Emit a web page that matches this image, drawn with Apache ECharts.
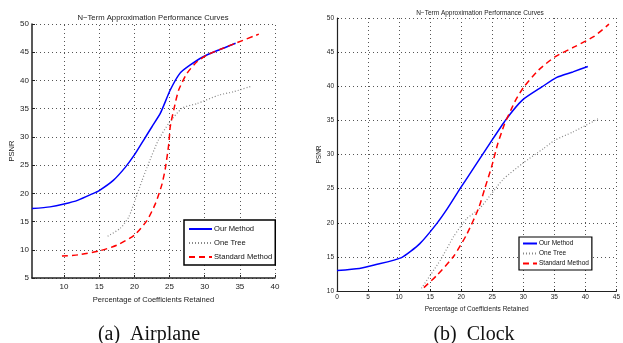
<!DOCTYPE html>
<html>
<head>
<meta charset="utf-8">
<script src="https://cdn.jsdelivr.net/npm/echarts@6/dist/echarts.min.js"></script>
<style>html,body{margin:0;padding:0;background:#fff}#c{width:623px;height:343px}</style>
</head>
<body>
<div id="c"></div>
<script>
// ---- Airplane (left) ----
const airOur = [[5.44,17.3],[8,17.6],[10,18.1],[12,18.8],[14,19.9],[15,20.5],[17,22.3],[18.7,24.6],[20,26.8],[21.3,29.4],[22.5,31.8],[23.7,34.2],[25.1,38.3],[26.5,41.3],[27.9,42.7],[29.8,44.2],[32,45.4],[34.4,46.6]];
const airTree = [[16.2,12.4],[18,13.8],[19.2,15.8],[20.1,18.8],[21.1,22.3],[21.8,24.6],[23.4,29.4],[24.9,32.4],[26.8,35.1],[28.9,35.9],[32,37.4],[34.1,38],[36.7,39]];
const airStd = [[9.7,8.9],[12,9.1],[15,9.8],[17.5,10.8],[20,12.6],[21.8,15.2],[23,18.2],[23.9,21.5],[24.4,24.4],[24.9,28.8],[25.1,31.8],[25.6,34.8],[26.3,38.3],[27.5,41.3],[28.9,43.3],[30.3,44.5],[32.2,45.5],[34.4,46.6],[37.7,48.2]];
const airXTicks = [10,15,20,25,30,35,40];
// ---- Clock (right) ----
const clkOur = [[0,13.0],[3.6,13.3],[6,13.8],[10.4,14.9],[13.3,16.9],[16,19.8],[17.8,22.1],[19.9,25.1],[22,28],[24.6,31.6],[27.2,35.1],[29.9,38],[33,39.9],[35.4,41.3],[38,42.1],[40.4,42.9]];
const clkTree = [[13.6,10.4],[16.7,14.6],[18.8,18],[20.9,20.6],[23,22.1],[26.7,26.3],[29.9,28.7],[33.3,30.9],[35.1,32.1],[38,33.3],[42.2,35.3]];
const clkStd = [[14,10.5],[16.2,12.4],[18.8,15.1],[20.9,18.3],[22.8,22.1],[23.8,25],[24.9,28.2],[25.9,31.6],[27,34.5],[28,36.5],[28.8,38],[30.1,39.9],[32.5,42.4],[35.1,44.3],[38.3,45.8],[41.4,47.3],[43.8,49.1]];

const names = ['Our Method','One Tree','Standard Method'];
const titleText = 'N\u2212Term Approximation Performance Curves';
const xName = 'Percentage of Coefficients Retained';
const FONT = "'Liberation Sans', Arial, sans-serif";

const gridDot = {type:[1,3], color:'#555', width:1};
const blueStyle = {color:'#0000ff', width:1.5, type:'solid'};
const grayStyle = {color:'#888', width:1.2, type:[1,2]};
const redStyle = {color:'#ff0000', width:1.5, type:[6,4]};

function mkSeries(idx, data, style, name, extra){
  return Object.assign({type:'line', name:name, xAxisIndex:idx, yAxisIndex:idx, data:data,
    showSymbol:false, symbol:'none', smooth:0.2, lineStyle:style, itemStyle:{color:style.color}, animation:false, silent:true}, extra||{});
}
const hiddenIcon = {color:'transparent', borderColor:'transparent', borderWidth:0, opacity:0};

const chart = echarts.init(document.getElementById('c'), null, {renderer:'canvas'});
chart.setOption({
  backgroundColor:'#fff',
  animation:false,
  textStyle:{fontFamily:FONT},
  title:[
    {text:titleText, left:148, top:9, textAlign:'center', textStyle:{fontSize:7.7, fontWeight:'normal', color:'#222', fontFamily:FONT}},
    {text:titleText, left:475, top:5, textAlign:'center', textStyle:{fontSize:6.5, fontWeight:'normal', color:'#222', fontFamily:FONT}},
    {text:'(a)  Airplane', left:144, top:320, textAlign:'center', textStyle:{fontSize:20, fontWeight:'normal', color:'#111', fontFamily:'Liberation Serif'}},
    {text:'(b)  Clock', left:469, top:320, textAlign:'center', textStyle:{fontSize:20, fontWeight:'normal', color:'#111', fontFamily:'Liberation Serif'}}
  ],
  legend:[
    {data:names.slice(), orient:'vertical', left:184, top:220, itemWidth:23, itemHeight:8, itemGap:6,
     padding:[5,3,4,4], borderColor:'#000', borderWidth:1.5, backgroundColor:'#fff', borderRadius:0,
     itemStyle:hiddenIcon,
     textStyle:{fontSize:7.6, color:'#111', fontFamily:FONT, padding:[0,0,0,-3]}, selectedMode:false},
    {data:names.slice(), orient:'vertical', left:519, top:237, itemWidth:14, itemHeight:6, itemGap:3,
     padding:[3,3,3,3], borderColor:'#000', borderWidth:1.2, backgroundColor:'#fff', borderRadius:0,
     itemStyle:hiddenIcon,
     textStyle:{fontSize:6.5, color:'#111', fontFamily:FONT, padding:[0,0,0,-3]}, selectedMode:false}
  ],
  grid:[
    {left:32, top:24, width:243, height:254, containLabel:false},
    {left:337, top:18, width:285, height:273, containLabel:false}
  ],
  xAxis:[
    {type:'value', gridIndex:0, min:5.44, max:40,
     name:xName, nameLocation:'middle', nameGap:18, nameTextStyle:{fontSize:7.6, color:'#222', fontFamily:FONT},
     axisLine:{show:true, onZero:false, lineStyle:{color:'#222', width:1.5}},
     axisTick:{show:true, inside:true, length:3, customValues:airXTicks, lineStyle:{color:'#222'}},
     axisLabel:{show:true, customValues:airXTicks, fontSize:8, color:'#222', margin:5, fontFamily:FONT},
     splitLine:{show:false}},
    {type:'value', gridIndex:1, min:0, max:45, interval:5,
     name:xName, nameLocation:'middle', nameGap:14, nameTextStyle:{fontSize:6.5, color:'#222', fontFamily:FONT},
     axisLine:{show:true, onZero:false, lineStyle:{color:'#222', width:1.2}},
     axisTick:{show:true, inside:true, length:2, lineStyle:{color:'#222'}},
     axisLabel:{fontSize:6.5, color:'#222', margin:3, fontFamily:FONT, showMaxLabel:true},
     splitLine:{show:true, lineStyle:gridDot}}
  ],
  yAxis:[
    {type:'value', gridIndex:0, min:5, max:50, interval:5,
     name:'PSNR', nameLocation:'middle', nameGap:16, nameRotate:90, nameTextStyle:{fontSize:7.6, color:'#222', fontFamily:FONT},
     axisLine:{show:true, onZero:false, lineStyle:{color:'#222', width:1.5}},
     axisTick:{show:true, inside:true, length:3, lineStyle:{color:'#222'}},
     axisLabel:{fontSize:8, color:'#222', margin:3, fontFamily:FONT},
     splitLine:{show:true, lineStyle:gridDot}},
    {type:'value', gridIndex:1, min:10, max:50, interval:5,
     name:'PSNR', nameLocation:'middle', nameGap:12, nameRotate:90, nameTextStyle:{fontSize:6.5, color:'#222', fontFamily:FONT},
     axisLine:{show:true, onZero:false, lineStyle:{color:'#222', width:1.2}},
     axisTick:{show:true, inside:true, length:2, lineStyle:{color:'#222'}},
     axisLabel:{fontSize:6.5, color:'#222', margin:3, fontFamily:FONT},
     splitLine:{show:true, lineStyle:gridDot}}
  ],
  series:[
    mkSeries(0, airOur, blueStyle, names[0]),
    mkSeries(0, airTree, grayStyle, names[1], {
      markLine:{silent:true, symbol:'none', z:1, label:{show:false}, animation:false,
        lineStyle:gridDot, emphasis:{disabled:true},
        data:airXTicks.map(v=>({xAxis:v}))}
    }),
    mkSeries(0, airStd, redStyle, names[2]),
    mkSeries(1, clkOur, blueStyle, names[0]),
    mkSeries(1, clkTree, grayStyle, names[1]),
    mkSeries(1, clkStd, redStyle, names[2])
  ]
});
</script>
</body>
</html>
